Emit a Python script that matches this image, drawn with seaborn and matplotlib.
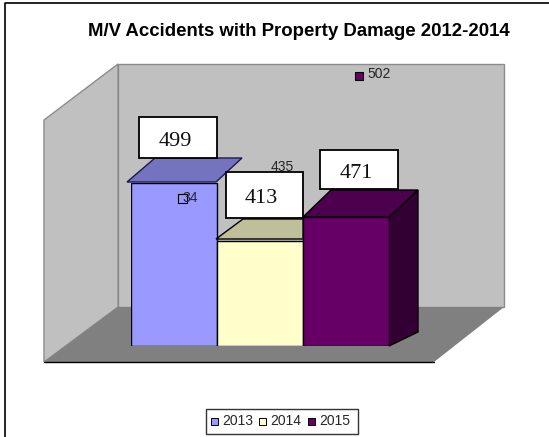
import matplotlib
matplotlib.use("Agg")
import matplotlib.pyplot as plt
import seaborn as sns
import pandas as pd
from matplotlib.patches import Polygon, Rectangle
from matplotlib.transforms import Affine2D

years = ["2013", "2014", "2015"]
# drawn heights follow the picture, the white boxes carry the typed numbers
bar_heights = [499, 321, 395]
box_labels = ["499", "413", "471"]
small_labels = ["34", "435", "502"]
front_colors = ["#9999ff", "#ffffcc", "#660066"]
top_colors = ["#7373bf", "#bfbf99", "#4d004d"]
side_color = "#330033"
title = "M/V Accidents with Property Damage 2012-2014"


def main():
    sns.set_theme(style="white")
    plt.rcParams["font.family"] = ["Liberation Sans", "DejaVu Sans"]

    fig = plt.figure(figsize=(5.49, 4.37), dpi=100, facecolor="white")
    px = Affine2D().scale(1, -1).translate(0, 437)  # picture pixels, y going down

    # axes holds only the three bars: x 131-389 px, baseline at 346 px
    ax = fig.add_axes([131 / 549, (437 - 346) / 437, 258 / 549, 163 / 437])
    data = pd.DataFrame({"year": years, "height": bar_heights})
    sns.barplot(data=data, x="year", y="height", hue="year", palette=front_colors,
                width=1.0, dodge=False, legend=False, ax=ax, zorder=5,
                edgecolor="black", linewidth=1.0, saturation=1)
    ax.set_xlim(-0.5, 2.5)
    ax.set_ylim(0, 499)
    ax.axis("off")

    def poly(points, face, edge, lw=1.0, z=1):
        ax.add_patch(Polygon(points, closed=True, facecolor=face, edgecolor=edge, linewidth=lw,
                             transform=px, zorder=z, clip_on=False))

    # frame, only top and left are visible in the picture
    ax.plot([549, 5, 5], [3, 3, 437], color="black", lw=1.2, transform=px, clip_on=False, zorder=0)

    # walls and floor
    poly([(118, 64), (504, 64), (504, 307), (118, 307)], "#c0c0c0", "#8c8c8c")
    poly([(44, 120), (118, 64), (118, 307), (44, 362)], "#c0c0c0", "#8c8c8c")
    poly([(44, 362), (118, 307), (504, 307), (434, 362)], "#808080", "none", z=2)
    ax.plot([44, 434], [362, 362], color="black", lw=1.0, transform=px, clip_on=False, zorder=2)

    # 3d faces round the bars
    poly([(389, 217), (418, 190), (418, 332), (389, 346)], side_color, "black", z=3)
    poly([(216, 239), (243, 219), (303, 219), (303, 239)], top_colors[1], "black", z=6)
    poly([(303, 217), (331, 190), (418, 190), (389, 217)], top_colors[2], "black", z=6)
    poly([(127, 182), (216, 182), (242, 158), (155, 158)], top_colors[0], "#1a1a4d", z=6)

    # white number boxes
    boxes = [(139, 117, 78, 41), (226, 172, 77, 46), (320, 150, 78, 39)]
    for (x, y, w, h), lab in zip(boxes, box_labels):
        ax.add_patch(Rectangle((x, y), w, h, facecolor="white", edgecolor="black", linewidth=1.3,
                               transform=px, zorder=8, clip_on=False))
        ax.text(x + w / 2 - 3, y + h / 2 + 3.5, lab, family="Liberation Serif", fontsize=16,
                color="#111111", ha="center", va="center", transform=px, zorder=9)

    # leftover small data labels with their keys
    ax.add_patch(Rectangle((178, 194), 9, 9, facecolor="#9999ff", edgecolor="black", linewidth=0.8,
                           transform=px, zorder=7, clip_on=False))
    ax.text(190, 198, small_labels[0], fontsize=10, ha="center", va="center", transform=px, zorder=7)
    ax.text(282, 167, small_labels[1], fontsize=10, ha="center", va="center", transform=px, zorder=4)
    ax.add_patch(Rectangle((355, 72), 8, 8, facecolor=front_colors[2], edgecolor="black", linewidth=0.8,
                           transform=px, zorder=4, clip_on=False))
    ax.text(367, 74.5, small_labels[2], fontsize=10, ha="left", va="center", transform=px, zorder=4)

    ax.text(299, 32, title, fontsize=13.4, fontweight="bold", color="black",
            ha="center", va="center", transform=px)

    # legend
    ax.add_patch(Rectangle((206, 409), 152, 25, facecolor="white", edgecolor="#333333", linewidth=1.0,
                           transform=px, zorder=8, clip_on=False))
    for key_x, year, color in zip([211, 259, 308], years, front_colors):
        ax.add_patch(Rectangle((key_x, 418), 7, 7, facecolor=color, edgecolor="black", linewidth=0.7,
                               transform=px, zorder=9, clip_on=False))
        ax.text(key_x + 11.5, 421, year, fontsize=10, ha="left", va="center", transform=px, zorder=9)

    fig.savefig("out.png", dpi=100)
    plt.close(fig)


main()
